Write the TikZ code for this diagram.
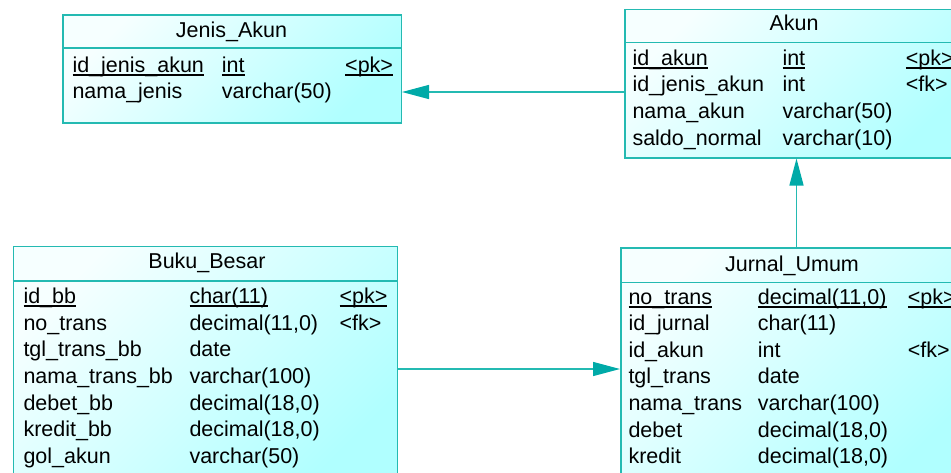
\documentclass[tikz,border=0pt]{standalone}
\usepackage{fontspec}
\setmainfont{Liberation Sans}
\usetikzlibrary{positioning,arrows.meta}

\definecolor{tealline}{RGB}{36,186,178}
\definecolor{tealhead}{RGB}{0,170,168}
\definecolor{cyanfill}{RGB}{176,255,255}
\definecolor{paleback}{RGB}{246,255,255}

% underlined key columns
\newcommand{\keyed}[1]{\setbox0\hbox{#1}\rlap{\rule[-3.5pt]{\wd0}{2pt}}\box0}

\begin{document}
\begin{tikzpicture}[x=1pt,y=-1pt,
  tbl/.style = {draw=tealline, line width=1.5pt, top color=paleback, bottom color=cyanfill, shading angle=45, anchor=north west, inner sep=0pt},
  title/.style = {anchor=base, inner sep=0pt, font=\fontsize{21.5}{26}\selectfont},
  field/.style = {anchor=base west, inner sep=0pt, font=\fontsize{21.5}{26}\selectfont},
  sep/.style = {draw=tealline, line width=1.5pt},
  link/.style = {draw=tealline, line width=1.3pt, -{Triangle[length=27pt,width=14pt,color=tealhead]}}]
\useasboundingbox (0,0) rectangle (951,472);
\clip (0,0) rectangle (951,472);

% tables
\node[tbl, minimum width=338.5pt, minimum height=108pt] (jenis) at (62,14) {};
\node[tbl, minimum width=340pt, minimum height=148.5pt] (akun) at (624,8.5) {};
\node[tbl, minimum width=384pt, minimum height=240pt] (buku) at (12.7,245.7) {};
\node[tbl, minimum width=344pt, minimum height=240pt] (jurnal) at (620,247.3) {};

\draw[sep] (jenis.west |- 0,48) -- (jenis.east |- 0,48);
\draw[sep] (akun.west |- 0,42.3) -- (akun.east |- 0,42.3);
\draw[sep] (buku.west |- 0,281) -- (buku.east |- 0,281);
\draw[sep] (jurnal.west |- 0,282.7) -- (jurnal.east |- 0,282.7);

\node[title] (jenis-title) at (231.5,37) {Jenis\_Akun};
\node[title] (akun-title) at (794,30.5) {Akun};
\node[title] (buku-title) at (207,268.5) {Buku\_Besar};
\node[title] (jurnal-title) at (792,271) {Jurnal\_Umum};

% columns
\foreach \name/\type/\key [count=\i] in {\keyed{id\_jenis\_akun}/\keyed{int}/\keyed{<pk>}, nama\_jenis/varchar(50)/{}} {
    \node[field] (jenis-n\i) at (72.3,{72+26.5*(\i-1)}) {\name};
    \node[field] (jenis-t\i) at (221.7,{72+26.5*(\i-1)}) {\type};
    \node[field] (jenis-k\i) at (345,{72+26.5*(\i-1)}) {\key};
}
\foreach \name/\type/\key [count=\i] in {\keyed{id\_akun}/\keyed{int}/\keyed{<pk>}, id\_jenis\_akun/int/<fk>, nama\_akun/varchar(50)/{}, saldo\_normal/varchar(10)/{}} {
    \node[field] (akun-n\i) at (632.3,{65+26.67*(\i-1)}) {\name};
    \node[field] (akun-t\i) at (782.3,{65+26.67*(\i-1)}) {\type};
    \node[field] (akun-k\i) at (905.7,{65+26.67*(\i-1)}) {\key};
}
\foreach \name/\type/\key [count=\i] in {\keyed{id\_bb}/\keyed{char(11)}/\keyed{<pk>}, no\_trans/{decimal(11,0)}/<fk>, tgl\_trans\_bb/date/{}, nama\_trans\_bb/varchar(100)/{}, debet\_bb/{decimal(18,0)}/{}, kredit\_bb/{decimal(18,0)}/{}, gol\_akun/varchar(50)/{}} {
    \node[field] (buku-n\i) at (23.3,{303.5+26.67*(\i-1)}) {\name};
    \node[field] (buku-t\i) at (189.3,{303.5+26.67*(\i-1)}) {\type};
    \node[field] (buku-k\i) at (339.3,{303.5+26.67*(\i-1)}) {\key};
}
\foreach \name/\type/\key [count=\i] in {\keyed{no\_trans}/{\keyed{decimal(11,0)}}/\keyed{<pk>}, id\_jurnal/char(11)/{}, id\_akun/int/<fk>, tgl\_trans/date/{}, nama\_trans/varchar(100)/{}, debet/{decimal(18,0)}/{}, kredit/{decimal(18,0)}/{}} {
    \node[field] (jurnal-n\i) at (628.3,{304+26.6*(\i-1)}) {\name};
    \node[field] (jurnal-t\i) at (757.7,{304+26.6*(\i-1)}) {\type};
    \node[field] (jurnal-k\i) at (907.7,{304+26.6*(\i-1)}) {\key};
}

% references
\draw[link] (akun.west |- 0,92) -- (jenis.east |- 0,92);
\draw[link] (jurnal.north -| 796.5,0) -- (akun.south -| 796.5,0);
\draw[link] (buku.east |- 0,369) -- (jurnal.west |- 0,369);
\end{tikzpicture}
\end{document}
